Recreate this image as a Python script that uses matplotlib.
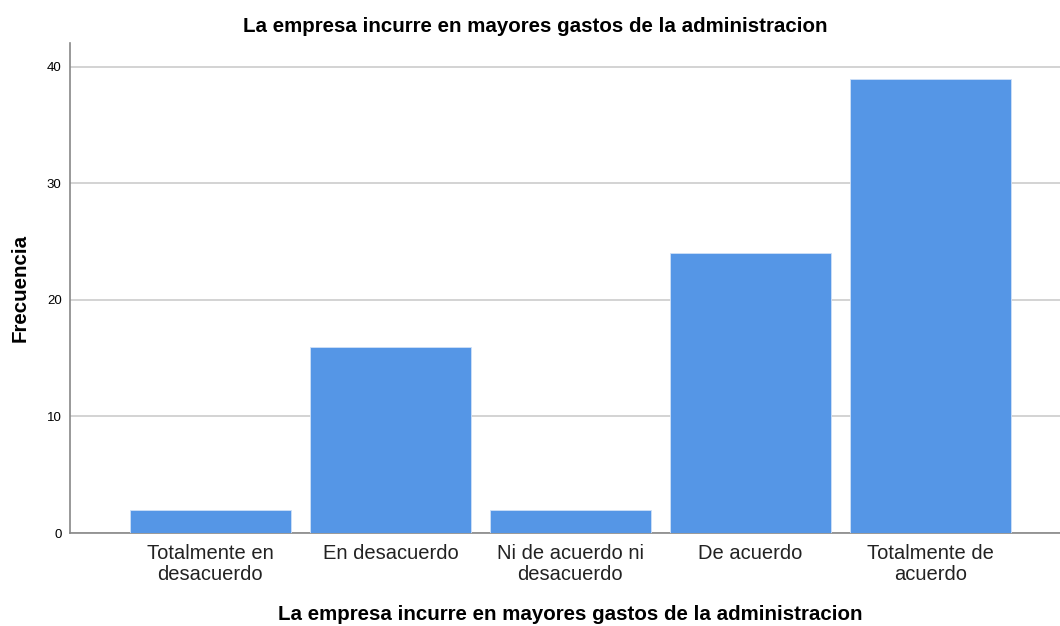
"""Bar chart of survey answers: La empresa incurre en mayores gastos de la administracion."""

import matplotlib

matplotlib.use("Agg")
import matplotlib.pyplot as plt

categories = [
    "Totalmente en\ndesacuerdo",
    "En desacuerdo",
    "Ni de acuerdo ni\ndesacuerdo",
    "De acuerdo",
    "Totalmente de\nacuerdo",
]
frecuencias = [2, 16, 2, 24, 39]
y_ticks = [0, 10, 20, 30, 40]

TITLE = "La empresa incurre en mayores gastos de la administracion"

plt.rcParams["font.family"] = ["Liberation Sans", "DejaVu Sans"]

fig = plt.figure(figsize=(10.6, 6.26), dpi=100)
W, H = 1060, 626
ax = fig.add_axes([70 / W, (H - 533) / H, (W - 70) / W, (533 - 43) / H])

x = list(range(len(categories)))
ax.bar(x, frecuencias, width=0.894, color="#5596e6", edgecolor="#cfe0f7",
       linewidth=0.6, zorder=3)

ax.set_xlim(-0.78, 4.72)
ax.set_ylim(0, 42.06)
ax.set_yticks(y_ticks)
ax.set_yticklabels([str(v) for v in y_ticks], fontsize=9.5)
ax.set_xticks(x)
ax.set_xticklabels(categories, fontsize=14.5, color="#222222", linespacing=1.1)
ax.tick_params(axis="both", length=0)
ax.tick_params(axis="y", pad=6)
ax.tick_params(axis="x", pad=8)

ax.yaxis.grid(True, color="#d0d0d0", linewidth=1.3, zorder=0)
for side in ["top", "right"]:
    ax.spines[side].set_visible(False)
for side in ["left", "bottom"]:
    ax.spines[side].set_color("#888888")
    ax.spines[side].set_linewidth(1.2)

ax.set_ylabel("Frecuencia", fontsize=14.8, fontweight="bold")
ax.set_xlabel(TITLE, fontsize=14.8, fontweight="bold")
ax.yaxis.set_label_coords(-50 / 990, 0.5)
ax.xaxis.set_label_coords(0.505, -(614 - 533) / 490)
ax.xaxis.label.set_va("center")
ax.yaxis.label.set_va("center")
fig.text(0.5 + 5 / W, 1 - 27 / H, TITLE, ha="center", va="center",
         fontsize=14.8, fontweight="bold")

fig.savefig("out.png", dpi=100)
